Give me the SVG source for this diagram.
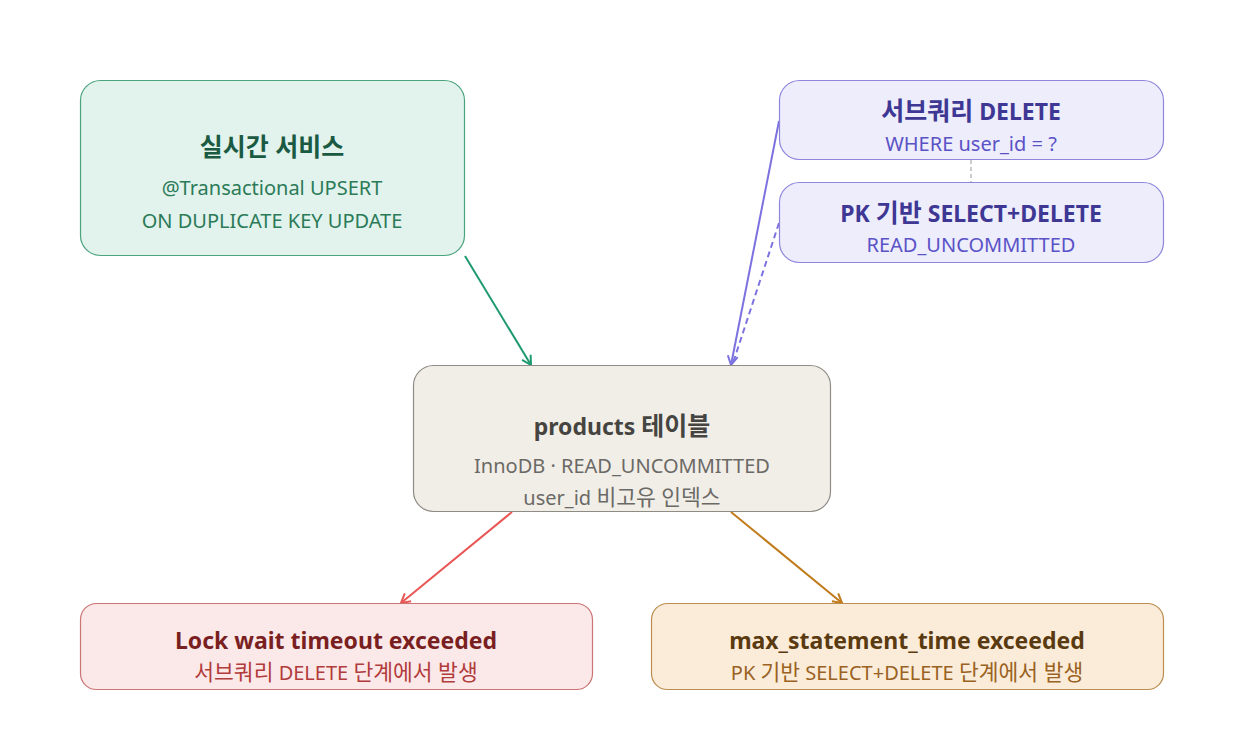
<svg xmlns="http://www.w3.org/2000/svg" width="1244" height="729" viewBox="0 0 1244 729">
<style>
text{font-family:"Noto Sans","Noto Sans CJK KR",sans-serif;text-anchor:middle}
.t{font-size:23px;font-weight:700}
.s{font-size:20px}
.t .k{font-size:25px}
.s .k{font-size:21.5px}
.box{stroke-width:1.2}
</style>
<defs>
<marker id="ag" viewBox="0 0 12 12" refX="10" refY="6" markerWidth="12" markerHeight="12" markerUnits="userSpaceOnUse" orient="auto"><path d="M1,1 L10,6 L1,11" fill="none" stroke="#1f9a70" stroke-width="2"/></marker>
<marker id="ap" viewBox="0 0 12 12" refX="10" refY="6" markerWidth="12" markerHeight="12" markerUnits="userSpaceOnUse" orient="auto"><path d="M1,1 L10,6 L1,11" fill="none" stroke="#7b72e0" stroke-width="2"/></marker>
<marker id="ar" viewBox="0 0 12 12" refX="10" refY="6" markerWidth="12" markerHeight="12" markerUnits="userSpaceOnUse" orient="auto"><path d="M1,1 L10,6 L1,11" fill="none" stroke="#e85656" stroke-width="2"/></marker>
<marker id="ao" viewBox="0 0 12 12" refX="10" refY="6" markerWidth="12" markerHeight="12" markerUnits="userSpaceOnUse" orient="auto"><path d="M1,1 L10,6 L1,11" fill="none" stroke="#c07a1a" stroke-width="2"/></marker>
</defs>
<rect width="1244" height="729" fill="#ffffff"/>
<g id="connectors" fill="none">
<line x1="971" y1="160" x2="971" y2="182" stroke="#aaaaaa" stroke-width="1.2" stroke-dasharray="4,3"/>
<line x1="465" y1="256" x2="531" y2="365" stroke="#1f9a70" stroke-width="2" marker-end="url(#ag)"/>
<line x1="779" y1="121" x2="731" y2="365" stroke="#7b72e0" stroke-width="2" marker-end="url(#ap)"/>
<line x1="779" y1="223" x2="733" y2="363" stroke="#7b72e0" stroke-width="2" stroke-dasharray="6,4"/>
<line x1="512" y1="512" x2="401" y2="603" stroke="#e85656" stroke-width="2" marker-end="url(#ar)"/>
<line x1="731" y1="512" x2="842" y2="603" stroke="#c07a1a" stroke-width="2" marker-end="url(#ao)"/>
</g>
<g id="realtime">
<rect class="box" x="80.5" y="80.5" width="384" height="175" rx="20" fill="#e1f3ec" stroke="#4aa37e"/>
<text class="t" x="272" y="156" fill="#1b5a42"><tspan class="k">실시간 서비스</tspan></text>
<text class="s" x="272" y="195" fill="#2b7a58">@Transactional UPSERT</text>
<text class="s" x="272" y="228" fill="#2b7a58">ON DUPLICATE KEY UPDATE</text>
</g>
<g id="subquery">
<rect class="box" x="779.5" y="80.5" width="384" height="79" rx="20" fill="#ededfc" stroke="#8d86dc"/>
<text class="t" x="971" y="120" fill="#3e3794"><tspan class="k">서브쿼리</tspan> DELETE</text>
<text class="s" x="971" y="151" fill="#5a52c6">WHERE user_id = ?</text>
</g>
<g id="pkdelete">
<rect class="box" x="779.5" y="182.5" width="384" height="80" rx="20" fill="#ededfc" stroke="#8d86dc"/>
<text class="t" x="971" y="222" fill="#3e3794">PK <tspan class="k">기반</tspan> SELECT+DELETE</text>
<text class="s" x="971" y="252" fill="#5a52c6">READ_UNCOMMITTED</text>
</g>
<g id="products">
<rect class="box" x="413.5" y="365.5" width="417" height="146" rx="20" fill="#f1eee8" stroke="#8f8b85"/>
<text class="t" x="622" y="435" fill="#454440">products <tspan class="k">테이블</tspan></text>
<text class="s" x="622" y="473" fill="#6b6965">InnoDB · READ_UNCOMMITTED</text>
<text class="s" x="622" y="505" fill="#6b6965">user_id <tspan class="k">비고유 인덱스</tspan></text>
</g>
<g id="lockwait">
<rect class="box" x="80.5" y="603.5" width="512" height="86" rx="16" fill="#fbe9e9" stroke="#cc7474"/>
<text class="t" x="336" y="649" fill="#7a1f1f">Lock wait timeout exceeded</text>
<text class="s" x="336" y="680" fill="#b23b3b"><tspan class="k">서브쿼리</tspan> DELETE <tspan class="k">단계에서 발생</tspan></text>
</g>
<g id="maxstatement">
<rect class="box" x="651.5" y="603.5" width="512" height="86" rx="16" fill="#fbecd9" stroke="#bb8d50"/>
<text class="t" x="907" y="649" fill="#5a3a10">max_statement_time exceeded</text>
<text class="s" x="907" y="680" fill="#9a6222">PK <tspan class="k">기반</tspan> SELECT+DELETE <tspan class="k">단계에서 발생</tspan></text>
</g>
</svg>
